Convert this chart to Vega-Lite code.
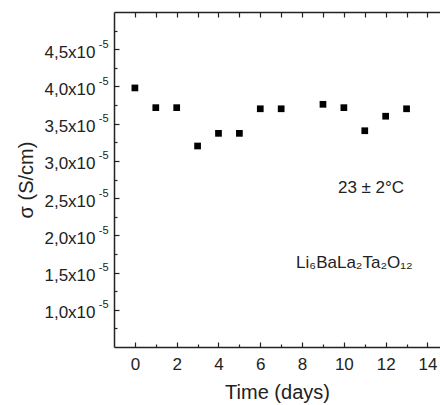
{
  "$schema": "https://vega.github.io/schema/vega-lite/v6.json",
  "width": 326,
  "height": 335,
  "autosize": "none",
  "padding": {"left": 114, "top": 12, "right": 0, "bottom": 58},
  "background": "white",
  "config": {
    "view": {"stroke": null},
    "font": "Liberation Sans",
    "axis": {"domainColor": "#222", "tickColor": "#222", "labelColor": "#222", "titleColor": "#222", "grid": false, "labelFont": "Liberation Sans", "titleFont": "Liberation Sans", "titleFontWeight": "normal", "domainWidth": 1.5, "tickWidth": 1.2}
  },
  "datasets": {
    "pts": [
      {"day": 0, "sigma": 3.98e-5},
      {"day": 1, "sigma": 3.715e-5},
      {"day": 2, "sigma": 3.715e-5},
      {"day": 3, "sigma": 3.20e-5},
      {"day": 4, "sigma": 3.37e-5},
      {"day": 5, "sigma": 3.37e-5},
      {"day": 6, "sigma": 3.70e-5},
      {"day": 7, "sigma": 3.70e-5},
      {"day": 9, "sigma": 3.76e-5},
      {"day": 10, "sigma": 3.715e-5},
      {"day": 11, "sigma": 3.405e-5},
      {"day": 12, "sigma": 3.60e-5},
      {"day": 13, "sigma": 3.70e-5}
    ],
    "notes": [
      {"day": 11.3, "sigma": 2.63e-5, "label": "23 ± 2°C"},
      {"day": 10.5, "sigma": 1.63e-5, "label": "Li₆BaLa₂Ta₂O₁₂"}
    ]
  },
  "layer": [
    {
      "data": {"name": "pts"},
      "mark": {"type": "point", "shape": "square", "filled": true, "color": "black", "opacity": 1, "size": 45},
      "encoding": {
        "x": {"field": "day", "type": "quantitative", "scale": {"domain": [-1, 14.6], "nice": false, "zero": false},
          "axis": {"orient": "bottom", "values": [0, 2, 4, 6, 8, 10, 12, 14], "tickSize": -5, "labelPadding": 14, "labelFontSize": 17, "title": "Time (days)", "titleFontSize": 20, "titlePadding": 10}},
        "y": {"field": "sigma", "type": "quantitative", "scale": {"domain": [0.5e-5, 5e-5], "nice": false, "zero": false},
          "axis": {"orient": "left", "values": [1e-5, 1.5e-5, 2e-5, 2.5e-5, 3e-5, 3.5e-5, 4e-5, 4.5e-5], "tickSize": -5, "labelPadding": 24, "labelFontSize": 17, "labelOffset": 3,
            "labelExpr": "replace(format(datum.value*1e5, '.1f'), '.', ',') + 'x10'", "title": "σ (S/cm)", "titleFontSize": 20, "titlePadding": 7}}
      }
    },
    {
      "data": {"name": "pts"},
      "mark": {"type": "point", "opacity": 0},
      "encoding": {
        "x": {"field": "day", "type": "quantitative",
          "axis": {"orient": "bottom", "values": [1, 3, 5, 7, 9, 11, 13], "tickSize": -3, "labels": false, "domain": false, "title": null}},
        "y": {"field": "sigma", "type": "quantitative",
          "axis": {"orient": "left", "values": [0.75e-5, 1.25e-5, 1.75e-5, 2.25e-5, 2.75e-5, 3.25e-5, 3.75e-5, 4.25e-5, 4.75e-5], "tickSize": -3, "labels": false, "domain": false, "title": null}}
      }
    },
    {
      "data": {"name": "pts"},
      "mark": {"type": "point", "opacity": 0},
      "encoding": {
        "x": {"field": "day", "type": "quantitative",
          "axis": {"orient": "top", "values": [0, 1, 2, 3, 4, 5, 6, 7, 8, 9, 10, 11, 12, 13, 14], "tickSize": -5, "labels": false, "domain": true, "title": null}},
        "y": {"field": "sigma", "type": "quantitative",
          "axis": {"orient": "left", "values": [1e-5, 1.5e-5, 2e-5, 2.5e-5, 3e-5, 3.5e-5, 4e-5, 4.5e-5], "ticks": false, "domain": false, "labelPadding": 6, "labelFontSize": 11, "labelOffset": -5, "labelExpr": "'-5'", "title": null}}
      }
    },
    {
      "data": {"name": "notes"},
      "mark": {"type": "text", "font": "Liberation Sans", "fontSize": 17, "color": "#222", "align": "center", "baseline": "middle"},
      "encoding": {
        "x": {"field": "day", "type": "quantitative", "axis": null},
        "y": {"field": "sigma", "type": "quantitative", "axis": null},
        "text": {"field": "label"}
      }
    }
  ],
  "resolve": {"axis": {"x": "independent", "y": "independent"}}
}
